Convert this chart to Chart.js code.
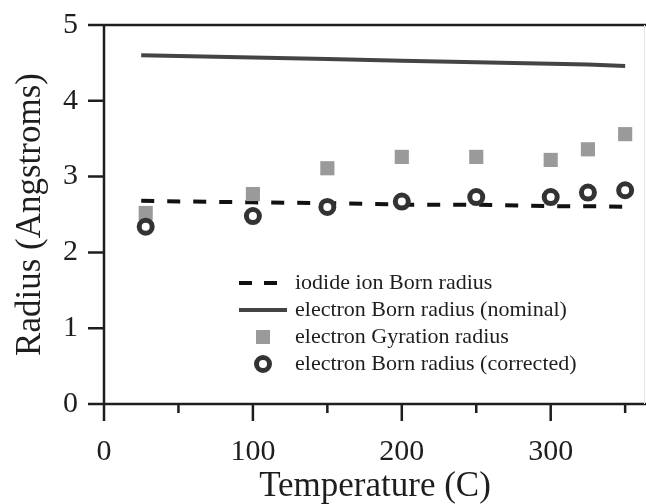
<!DOCTYPE html>
<html>
<head>
<meta charset="utf-8">
<script src="https://cdn.jsdelivr.net/npm/chart.js@4/dist/chart.umd.min.js"></script>
<style>
  html, body { margin: 0; padding: 0; background: #fff; overflow: hidden; }
  #wrap { width: 646px; height: 504px; position: relative; }
</style>
</head>
<body>
<div id="wrap"><canvas id="chart" width="646" height="504"></canvas></div>
<script>
// --- DATA ---
const lineTemps = [25, 100, 150, 200, 250, 300, 325, 350];
const pointTemps = [28, 100, 150, 200, 250, 300, 325, 350];
const iodideBorn = [2.68, 2.66, 2.65, 2.63, 2.63, 2.61, 2.61, 2.60];
const electronBornNominal = [4.60, 4.57, 4.55, 4.53, 4.51, 4.49, 4.48, 4.46];
const electronGyration = [2.52, 2.77, 3.11, 3.26, 3.26, 3.22, 3.36, 3.56];
const electronBornCorrected = [2.34, 2.48, 2.60, 2.67, 2.73, 2.73, 2.79, 2.82];
const xTickLabels = ['0', '100', '200', '300'];
const seriesNames = [
    'iodide ion Born radius',
    'electron Born radius (nominal)',
    'electron Gyration radius',
    'electron Born radius (corrected)'
];

const SERIF = '"Liberation Serif", "Times New Roman", serif';
const INK = '#1e1e1e';

function pts(xs, ys) {
    return xs.map((x, i) => ({ x: x, y: ys[i] }));
}

// --- AXIS TICKS + FRAME ---
const framePlugin = {
    id: 'frame',
    afterDraw(chart) {
        const { ctx, chartArea: a, scales: { x, y } } = chart;
        ctx.save();
        ctx.strokeStyle = INK;
        ctx.lineWidth = 2.5;
        ctx.beginPath();
        // left axis, bottom axis, top border
        ctx.moveTo(a.left, a.top);
        ctx.lineTo(a.left, a.bottom);
        ctx.moveTo(a.left - 16, a.bottom);
        ctx.lineTo(a.right, a.bottom);
        ctx.moveTo(a.left - 16, a.top);
        ctx.lineTo(a.right, a.top);
        // y ticks (outward)
        for (let v = 1; v < 5; v++) {
            const py = y.getPixelForValue(v);
            ctx.moveTo(a.left - 16, py);
            ctx.lineTo(a.left, py);
        }
        // x ticks (major / minor)
        for (let v = 0; v <= 350; v += 50) {
            const px = x.getPixelForValue(v);
            const len = v % 100 === 0 ? 17 : 9;
            ctx.moveTo(px, a.bottom);
            ctx.lineTo(px, a.bottom + len);
        }
        ctx.stroke();
        // faint right edge
        ctx.strokeStyle = '#e4e4e4';
        ctx.lineWidth = 1;
        ctx.beginPath();
        ctx.moveTo(a.right - 1.5, a.top);
        ctx.lineTo(a.right - 1.5, a.bottom);
        ctx.stroke();
        ctx.restore();
    }
};

// --- LEGEND INSIDE PLOT ---
const legendPlugin = {
    id: 'insideLegend',
    afterDraw(chart) {
        const ctx = chart.ctx;
        const x0 = 239, x1 = 285, tx = 295, mx = 263;
        const rows = [283, 310, 337, 364];
        ctx.save();
        ctx.font = '22px ' + SERIF;
        ctx.fillStyle = INK;
        ctx.textBaseline = 'middle';
        seriesNames.forEach((n, i) => ctx.fillText(n, tx, rows[i]));

        ctx.lineWidth = 4;
        ctx.strokeStyle = '#111';
        ctx.setLineDash([13, 12]);
        ctx.beginPath();
        ctx.moveTo(x0, rows[0]);
        ctx.lineTo(x0 + 38, rows[0]);
        ctx.stroke();

        ctx.setLineDash([]);
        ctx.strokeStyle = '#444';
        ctx.beginPath();
        ctx.moveTo(x0, rows[1]);
        ctx.lineTo(x1 + 2, rows[1]);
        ctx.stroke();

        ctx.fillStyle = '#9a9a9a';
        ctx.fillRect(mx - 7, rows[2] - 7, 14, 14);

        ctx.strokeStyle = '#333';
        ctx.lineWidth = 5;
        ctx.beginPath();
        ctx.arc(mx, rows[3], 6.5, 0, Math.PI * 2);
        ctx.stroke();
        ctx.restore();
    }
};

new Chart(document.getElementById('chart'), {
    type: 'scatter',
    data: {
        datasets: [
            {
                label: seriesNames[0],
                type: 'line',
                data: pts(lineTemps, iodideBorn),
                borderColor: '#111',
                borderWidth: 4,
                borderDash: [13, 13],
                pointRadius: 0,
                fill: false,
                order: 2
            },
            {
                label: seriesNames[1],
                type: 'line',
                data: pts(lineTemps, electronBornNominal),
                borderColor: '#444',
                borderWidth: 4,
                pointRadius: 0,
                fill: false,
                order: 3
            },
            {
                label: seriesNames[2],
                data: pts(pointTemps, electronGyration),
                pointStyle: 'rect',
                pointRadius: 10,
                backgroundColor: '#9a9a9a',
                borderWidth: 0,
                order: 1
            },
            {
                label: seriesNames[3],
                data: pts(pointTemps, electronBornCorrected),
                pointStyle: 'circle',
                pointRadius: 6.5,
                backgroundColor: '#fff',
                borderColor: '#333',
                borderWidth: 5,
                order: 0
            }
        ]
    },
    options: {
        responsive: false,
        animation: false,
        layout: { autoPadding: false, padding: { top: 25, right: 0, left: 0, bottom: 0 } },
        plugins: {
            legend: { display: false },
            tooltip: { enabled: false }
        },
        scales: {
            x: {
                type: 'linear',
                min: 0,
                max: 364,
                border: { display: false },
                grid: { display: false, drawTicks: false },
                ticks: {
                    stepSize: 100,
                    includeBounds: false,
                    autoSkip: false,
                    maxRotation: 0,
                    padding: 30,
                    color: INK,
                    font: { family: SERIF, size: 30 },
                    callback: (v) => xTickLabels.includes(String(v)) ? String(v) : ''
                },
                title: {
                    display: true,
                    text: 'Temperature (C)',
                    color: INK,
                    font: { family: SERIF, size: 35, lineHeight: 1 },
                    padding: { top: 0, bottom: 0 }
                },
                afterFit: (s) => { s.height = 100; s.paddingLeft = 0; s.paddingRight = 0; }
            },
            y: {
                type: 'linear',
                min: 0,
                max: 5,
                border: { display: false },
                grid: { display: false, drawTicks: false },
                ticks: {
                    stepSize: 1,
                    padding: 26,
                    color: INK,
                    font: { family: SERIF, size: 30 }
                },
                title: {
                    display: true,
                    text: 'Radius (Angstroms)',
                    color: INK,
                    font: { family: SERIF, size: 35, lineHeight: 1 },
                    padding: { top: 13, bottom: 0 }
                },
                afterFit: (s) => { s.width = 104; s.paddingTop = 0; s.paddingBottom = 0; }
            }
        }
    },
    plugins: [framePlugin, legendPlugin]
});
</script>
</body>
</html>
